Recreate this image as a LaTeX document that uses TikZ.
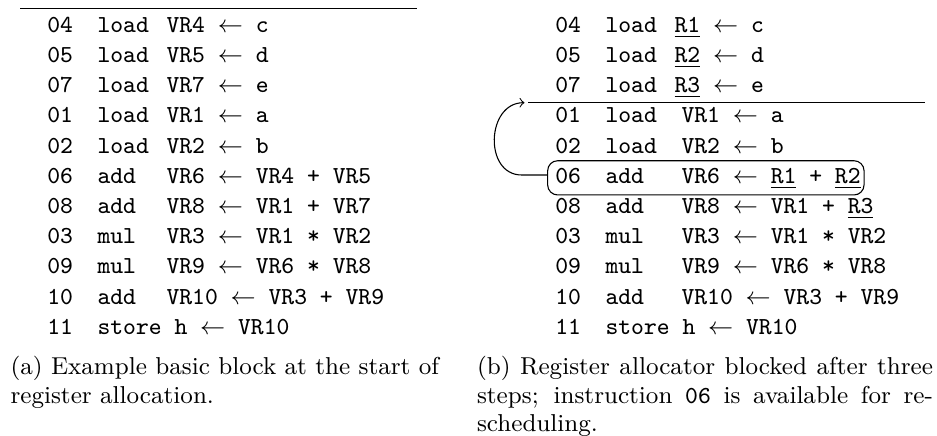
\documentclass[tikz,border=0pt]{standalone}
\newcommand{\lstrow}[7][25.41pt]{\node[lst] (#2) at (#3,#4) {\makebox[18.48pt][l]{#5}\makebox[#1][l]{#6}#7};}
\begin{document}
\begin{tikzpicture}[x=0.3682pt,y=-0.3682pt,
  lst/.style={anchor=base west,inner sep=0pt,font=\fontsize{9}{11}\selectfont\ttfamily},
  captext/.style={anchor=base west,inner sep=0pt,font=\fontsize{9}{10.5}\selectfont},
  rulepath/.style={line width=0.4pt},
  hlbox/.style={draw,line width=0.4pt,rounded corners=3.7pt,minimum width=116.5pt,minimum height=12.6pt,inner sep=0pt}]
\useasboundingbox (0,0) rectangle (937,436);
% ---------- left panel ----------
\coordinate (lA) at (20,8.3);
\coordinate (lB) at (416.7,8.3);
\draw[rulepath] (lA) -- (lB);
\lstrow{a1}{46.8}{32.3}{04}{load}{VR4 $\leftarrow$ c}
\lstrow{a2}{46.8}{62.5}{05}{load}{VR5 $\leftarrow$ d}
\lstrow{a3}{46.8}{92.7}{07}{load}{VR7 $\leftarrow$ e}
\lstrow{a4}{46.8}{122.9}{01}{load}{VR1 $\leftarrow$ a}
\lstrow{a5}{46.8}{153.1}{02}{load}{VR2 $\leftarrow$ b}
\lstrow{a6}{46.8}{183.3}{06}{add}{VR6 $\leftarrow$ VR4 + VR5}
\lstrow{a7}{46.8}{213.5}{08}{add}{VR8 $\leftarrow$ VR1 + VR7}
\lstrow{a8}{46.8}{243.7}{03}{mul}{VR3 $\leftarrow$ VR1 * VR2}
\lstrow{a9}{46.8}{273.9}{09}{mul}{VR9 $\leftarrow$ VR6 * VR8}
\lstrow{a10}{46.8}{304.1}{10}{add}{VR10 $\leftarrow$ VR3 + VR9}
\lstrow{a11}{46.8}{334.3}{11}{store h $\leftarrow$ VR10}{}
\node[captext] (capa) at (10,374.5) {\parbox[t]{160pt}{(a) Example basic block at the start of\newline register allocation.}};
% ---------- right panel ----------
\lstrow{b1}{554.8}{32.3}{04}{load}{\underline{R1} $\leftarrow$ c}
\lstrow{b2}{554.8}{62.5}{05}{load}{\underline{R2} $\leftarrow$ d}
\lstrow{b3}{554.8}{92.7}{07}{load}{\underline{R3} $\leftarrow$ e}
\coordinate (rA) at (528,102.7);
\coordinate (rB) at (925,102.7);
\draw[rulepath] (rA) -- (rB);
\lstrow[27.98pt]{b4}{554.8}{122.9}{01}{load}{VR1 $\leftarrow$ a}
\lstrow[27.98pt]{b5}{554.8}{153.1}{02}{load}{VR2 $\leftarrow$ b}
\lstrow[27.98pt]{b6}{554.8}{183.3}{06}{add}{VR6 $\leftarrow$ \underline{R1} + \underline{R2}}
\lstrow[27.98pt]{b7}{554.8}{213.5}{08}{add}{VR8 $\leftarrow$ VR1 + \underline{R3}}
\lstrow[27.98pt]{b8}{554.8}{243.7}{03}{mul}{VR3 $\leftarrow$ VR1 * VR2}
\lstrow[27.98pt]{b9}{554.8}{273.9}{09}{mul}{VR9 $\leftarrow$ VR6 * VR8}
\lstrow[27.98pt]{b10}{554.8}{304.1}{10}{add}{VR10 $\leftarrow$ VR3 + VR9}
\lstrow{b11}{554.8}{334.3}{11}{store h $\leftarrow$ VR10}{}
\node[hlbox] (hl) at (705.85,177.85) {};
\coordinate (bend) at (521.7,175);
\coordinate (tip) at (524.5,102.7);
\draw[rulepath,->] (hl.west |- bend) -- (bend) to[out=180,in=180,looseness=1.35] (tip);
\node[captext] (capb) at (476.5,374.5) {\parbox[t]{167.9pt}{(b) Register allocator blocked after three\linebreak steps; instruction \texttt{06} is available for re-\linebreak scheduling.}};
\end{tikzpicture}
\end{document}
